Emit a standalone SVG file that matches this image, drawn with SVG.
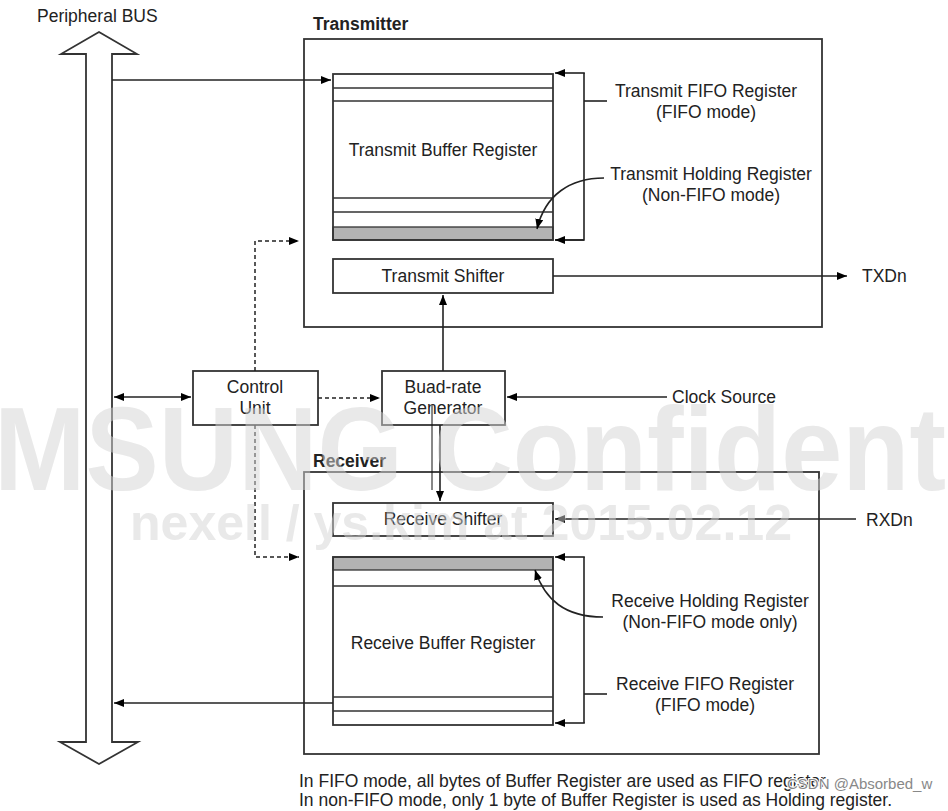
<svg xmlns="http://www.w3.org/2000/svg" width="948" height="811" viewBox="0 0 948 811">
<defs>
<marker id="ah" markerWidth="10" markerHeight="8" refX="10" refY="4" orient="auto" markerUnits="userSpaceOnUse"><path d="M0,0 L10,4 L0,8 Z" fill="#000"/></marker>
<marker id="ahs" markerWidth="10" markerHeight="8" refX="0" refY="4" orient="auto" markerUnits="userSpaceOnUse"><path d="M10,0 L0,4 L10,8 Z" fill="#000"/></marker>
<style>
text{font-family:"Liberation Sans",Arial,sans-serif;font-size:17.5px;fill:#222}
.b{font-weight:bold}
.m{text-anchor:middle}
.box{fill:none;stroke:#333;stroke-width:1.8}
.ln{fill:none;stroke:#222;stroke-width:1.6}
.thin{fill:none;stroke:#333;stroke-width:1.3}
.dash{fill:none;stroke:#222;stroke-width:1.5;stroke-dasharray:4,3}
.gray{fill:#b3b3b3;stroke:#333;stroke-width:1.3}
.wm{font-family:"Liberation Sans",Arial,sans-serif;font-weight:bold;fill:#d4d4d4;opacity:0.5}
</style>
</defs>
<rect width="948" height="811" fill="#fff"/>

<g id="bus">
<path d="M99,32 L137,54 L112,54 L112,742 L138,742 L99,764 L60,742 L86,742 L86,54 L61,54 Z" class="box"/>
<text x="37" y="22">Peripheral BUS</text>
</g>

<g id="transmitter">
<rect x="304" y="39" width="518" height="288" class="box"/>
<text x="313" y="30" class="b">Transmitter</text>
</g>

<g id="transmit-buffer">
<rect x="333" y="227" width="220" height="13" class="gray"/>
<rect x="333" y="74" width="220" height="166" class="box"/>
<path d="M333,88 H553 M333,101 H553 M333,198 H553 M333,212 H553" class="thin"/>
<text x="443" y="156" class="m">Transmit Buffer Register</text>
</g>

<g id="transmit-shifter">
<rect x="333" y="259" width="220" height="34" class="box"/>
<text x="443" y="282" class="m">Transmit Shifter</text>
</g>

<g id="tx-labels">
<text x="706" y="97" class="m">Transmit FIFO Register</text>
<text x="706" y="118" class="m">(FIFO mode)</text>
<text x="711" y="180" class="m">Transmit Holding Register</text>
<text x="711" y="201" class="m">(Non-FIFO mode)</text>
</g>

<g id="control-unit">
<rect x="193" y="371" width="125" height="54" class="box"/>
<text x="255" y="393" class="m">Control</text>
<text x="255" y="414" class="m">Unit</text>
</g>

<g id="baud-rate-generator">
<rect x="382" y="371" width="123" height="54" class="box"/>
<text x="443" y="393" class="m">Buad-rate</text>
<text x="443" y="414" class="m">Generator</text>
</g>

<g id="receiver">
<rect x="304" y="472" width="515" height="282" class="box"/>
<text x="313" y="467" class="b">Receiver</text>
</g>

<g id="receive-shifter">
<rect x="333" y="503" width="220" height="33" class="box"/>
<text x="443" y="525" class="m">Receive Shifter</text>
</g>

<g id="receive-buffer">
<rect x="333" y="557" width="220" height="13" class="gray"/>
<rect x="333" y="557" width="220" height="168" class="box"/>
<path d="M333,586 H553 M333,697 H553 M333,711 H553" class="thin"/>
<text x="443" y="649" class="m">Receive Buffer Register</text>
</g>

<g id="rx-labels">
<text x="710" y="607" class="m">Receive Holding Register</text>
<text x="710" y="628" class="m">(Non-FIFO mode only)</text>
<text x="705" y="690" class="m">Receive FIFO Register</text>
<text x="705" y="711" class="m">(FIFO mode)</text>
</g>

<g id="io-labels">
<text x="672" y="403">Clock Source</text>
<text x="862" y="282">TXDn</text>
<text x="866" y="526">RXDn</text>
</g>

<g id="connectors">
<path d="M112,80 H331" class="ln" marker-end="url(#ah)"/>
<path d="M555,240 H584 V73" class="ln"/>
<path d="M584.8,73 H555" class="ln" marker-end="url(#ah)"/>
<path d="M584,240 H555" class="ln" marker-end="url(#ah)"/>
<path d="M584,101 H607" class="ln"/>
<path d="M604,178 C570,178 545,195 537,229" class="ln" marker-end="url(#ah)"/>
<path d="M553,276 H847" class="ln" marker-end="url(#ah)"/>
<path d="M443,371 V295" class="ln" marker-end="url(#ah)"/>
<path d="M114,397 H191" class="ln" marker-start="url(#ahs)" marker-end="url(#ah)"/>
<path d="M318,398 H380" class="dash" marker-end="url(#ah)"/>
<path d="M667,397 H507" class="ln" marker-end="url(#ah)"/>
<path d="M255,371 V241 H299" class="dash" marker-end="url(#ah)"/>
<path d="M255,425 V557 H299" class="dash" marker-end="url(#ah)"/>
<path d="M440,425 V501" class="ln" marker-end="url(#ah)"/>
<path d="M432,405 V490" fill="none" stroke="#111" stroke-width="1"/>
<path d="M856,519 H555" class="ln" marker-end="url(#ah)"/>
<path d="M584,557 V723" class="ln"/>
<path d="M584.8,557 H555" class="ln" marker-end="url(#ah)"/>
<path d="M584.8,723 H555" class="ln" marker-end="url(#ah)"/>
<path d="M584,694 H607" class="ln"/>
<path d="M603,617 C565,617 545,600 535,570" class="ln" marker-end="url(#ah)"/>
<path d="M333,703 H114" class="ln" marker-end="url(#ah)"/>
</g>

<g id="notes">
<text x="299" y="787">In FIFO mode, all bytes of Buffer Register are used as FIFO register.</text>
<text x="299" y="806">In non-FIFO mode, only 1 byte of Buffer Register is used as Holding register.</text>
<text x="787" y="789" style="font-size:15px;fill:#888;stroke:#fff;stroke-width:2;paint-order:stroke">CSDN @Absorbed_w</text>
</g>

<g id="watermark">
<text x="-6" y="490" class="wm" style="font-size:118px" textLength="952" lengthAdjust="spacingAndGlyphs">MSUNG Confident</text>
<text x="130" y="540" class="wm" style="font-size:50px" textLength="662" lengthAdjust="spacingAndGlyphs">nexell / ys.kim at 2015.02.12</text>
</g>
</svg>
